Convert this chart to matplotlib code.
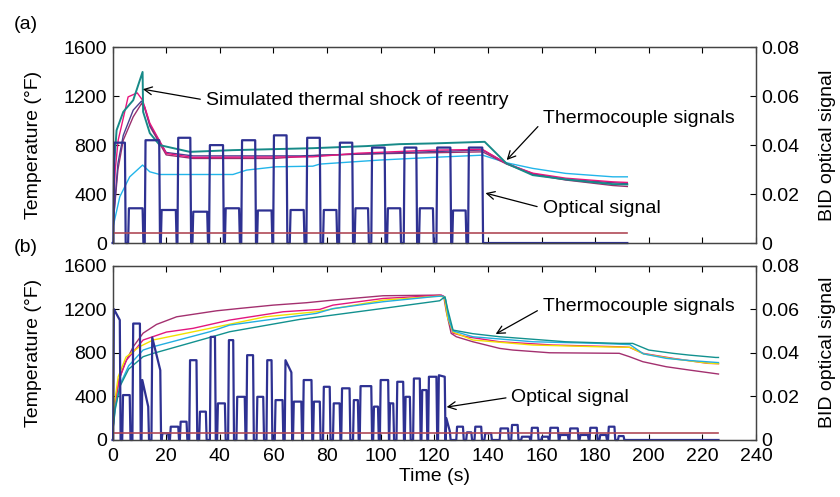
import matplotlib
matplotlib.use('Agg')
import matplotlib.pyplot as plt

plt.rcParams['font.family'] = ['Liberation Sans', 'DejaVu Sans']
plt.rcParams['font.size'] = 14

# ---- panel (a): thermocouples, temperature (F) vs time (s)
teal_a_t = [0, 0.2, 1.5, 4, 7.7, 11.2, 11.4, 13.9, 17.6, 28.8, 44.9, 74.7, 94.7, 107, 119.5, 138.8, 146.9, 156.7, 169, 186.6, 192]
teal_a_T = [100, 514, 922, 1072, 1167, 1398, 1072, 898, 800, 745, 759, 775, 792, 808, 814, 827, 651, 555, 520, 481, 479]
pink_a_t = [0, 1, 2.1, 3.4, 5.8, 9.2, 11.2, 13.9, 20.1, 30, 74.7, 91.5, 119.5, 138, 146.9, 156.7, 169, 186.6, 192]
pink_a_T = [100, 600, 841, 963, 1194, 1227, 1167, 980, 732, 700, 704, 734, 759, 765, 650, 571, 530, 500, 495]
purple_a_t = [0, 2, 4, 7.7, 10.8, 12, 14, 20, 30, 60, 78, 100, 138, 147, 157, 169, 186.6, 192]
purple_a_T = [100, 600, 841, 1031, 1140, 1100, 950, 720, 691, 691, 718, 730, 745, 645, 560, 515, 470, 462]
navy_a_t = [0, 2, 4, 7.7, 10.8, 12, 14, 20, 30, 70, 138, 147, 157, 169, 192]
navy_a_T = [100, 650, 880, 1086, 1160, 1110, 960, 740, 712, 712, 760, 650, 565, 520, 485]
blue_a_t = [0, 0.2, 2.7, 6.4, 11.2, 13.9, 17.6, 44.9, 50, 61, 74.7, 77.3, 99.6, 119.5, 138, 146.9, 156.7, 169, 186.6, 192]
blue_a_T = [0, 133, 378, 541, 637, 582, 560, 560, 596, 623, 628, 645, 678, 700, 718, 656, 610, 569, 541, 541]

# optical signal (a): (on, off, level) plateaus, zero in between
opt_a_blocks = [
    (0.3, 4.6, 0.041), (5.8, 11.2, 0.0142), (12.0, 17.4, 0.042), (18.0, 23.6, 0.0135),
    (24.2, 29.0, 0.043), (29.8, 35.3, 0.0128), (36.0, 41.2, 0.040), (41.9, 47.2, 0.0142),
    (48.0, 53.2, 0.042), (53.9, 59.3, 0.0133), (59.9, 64.9, 0.044), (66.1, 71.3, 0.0135),
    (72.3, 77.3, 0.043), (78.5, 83.5, 0.0135), (84.5, 89.4, 0.041), (90.3, 95.3, 0.0142),
    (96.5, 101.5, 0.039), (102.4, 107.3, 0.0142), (108.6, 113.3, 0.039), (114.3, 119.5, 0.0142),
    (120.8, 126.0, 0.039), (126.7, 131.7, 0.0133), (132.6, 137.9, 0.039),
]
opt_a_end = 192
ref_a = 0.0041

# ---- panel (b)
maroon_b_t = [0, 1, 2.5, 4.6, 7.7, 11.4, 16.4, 23.9, 38.8, 47.5, 59.9, 72.3, 82.2, 100.9, 122, 123.5, 124.5, 126.3, 128.2, 134.4, 144.4, 149.3, 163, 189, 192.8, 197.8, 206.5, 215, 226]
maroon_b_T = [60, 350, 560, 703, 855, 980, 1060, 1130, 1185, 1207, 1237, 1259, 1283, 1323, 1329, 1320, 1176, 978, 947, 901, 840, 825, 800, 795, 764, 718, 672, 642, 605]
magenta_b_t = [0, 1, 2.5, 5.2, 11.4, 20.1, 30, 43.7, 63.6, 77.3, 82.2, 100.9, 119.5, 122.7, 124, 125.5, 127, 132, 144.4, 164.2, 189, 192.8, 197.8, 209, 222, 226]
magenta_b_T = [60, 330, 560, 733, 917, 990, 1024, 1100, 1176, 1198, 1237, 1298, 1323, 1329, 1300, 1100, 980, 947, 901, 871, 855, 850, 795, 749, 703, 700]
yellow_b_t = [0, 0.5, 2.1, 5, 10, 15.1, 36.3, 57, 76, 101, 122, 123.8, 125, 127, 134.4, 156.8, 181.6, 193, 198, 209, 222, 226]
yellow_b_T = [60, 300, 580, 760, 855, 917, 1024, 1130, 1176, 1283, 1320, 1310, 1120, 990, 917, 871, 855, 850, 790, 745, 705, 700]
cyan_b_t = [0, 1, 3, 6, 11.4, 15.1, 36.3, 43.7, 57.4, 76, 82.2, 100.9, 119.5, 123, 124.2, 125.5, 127, 134.4, 156.8, 181.6, 193, 198, 206.5, 213, 226]
cyan_b_T = [60, 300, 520, 680, 825, 855, 993, 1054, 1100, 1161, 1205, 1268, 1314, 1320, 1290, 1100, 1000, 947, 901, 886, 875, 790, 749, 733, 710]
teal_b_t = [0, 1, 2.7, 6, 11.4, 15.1, 36.3, 43.7, 69.8, 82.2, 100.9, 122, 124, 125, 127, 134.4, 144.4, 169, 189, 194, 200, 209, 215, 225, 226]
teal_b_T = [60, 280, 489, 650, 764, 794, 941, 993, 1106, 1146, 1207, 1277, 1314, 1200, 1008, 975, 947, 901, 886, 886, 825, 795, 779, 757, 757]

# optical signal (b): (on, off, level at on, level at off)
opt_b_blocks = [
    (0.2, 2.7, 0.060, 0.055), (3.6, 6.4, 0.0206, 0.0206), (7.4, 10.2, 0.0534, 0.0534),
    (10.8, 13.3, 0.0275, 0.0153), (14.5, 17.8, 0.047, 0.032), (18.3, 20.7, 0.0031, 0.0031),
    (21.4, 24.5, 0.0061, 0.0061), (25.1, 27.6, 0.0084, 0.0084), (28.6, 31.3, 0.0366, 0.0366),
    (32.3, 34.8, 0.013, 0.013), (36.3, 38.2, 0.0473, 0.0473), (39.0, 41.9, 0.0168, 0.0168),
    (43.1, 45.0, 0.0458, 0.0458), (46.2, 49.3, 0.0198, 0.0198), (49.9, 52.4, 0.0389, 0.0389),
    (53.7, 56.2, 0.0198, 0.0198), (57.4, 59.3, 0.0366, 0.0366), (60.5, 63.4, 0.0183, 0.0183),
    (64.2, 66.7, 0.0366, 0.031), (67.3, 70.4, 0.0176, 0.0176), (71.0, 74.2, 0.0275, 0.0275),
    (74.8, 77.3, 0.0176, 0.0176), (78.5, 81.0, 0.0244, 0.0244), (82.2, 84.7, 0.0168, 0.0168),
    (85.3, 88.4, 0.0237, 0.0237), (89.7, 91.5, 0.0183, 0.0183), (92.2, 96.5, 0.0247, 0.0247),
    (97.2, 99.0, 0.0153, 0.0153), (99.7, 102.8, 0.0275, 0.0275), (103.2, 104.7, 0.0168, 0.0168),
    (105.9, 108.4, 0.0267, 0.0267), (109.0, 110.9, 0.0198, 0.0198), (112.1, 114.6, 0.0282, 0.0282),
    (115.2, 117.1, 0.0229, 0.0229), (117.7, 120.8, 0.029, 0.029), (121.4, 123.9, 0.0297, 0.029),
    (124.2, 125.8, 0.010, 0.004), (128.2, 130.7, 0.0061, 0.0061), (131.9, 133.8, 0.0035, 0.0035),
    (135.0, 137.5, 0.0061, 0.0061), (138.7, 141.2, 0.0031, 0.0031), (144.4, 147.5, 0.0053, 0.0053),
    (148.7, 151.1, 0.0069, 0.0069), (152.4, 155.5, 0.0015, 0.0015), (156.1, 158.6, 0.0056, 0.0056),
    (159.9, 162.4, 0.0015, 0.0015), (163.0, 166.1, 0.0056, 0.0056), (166.7, 169.8, 0.0023, 0.0023),
    (170.4, 173.5, 0.0053, 0.0053), (174.2, 177.3, 0.0023, 0.0023), (177.9, 180.6, 0.0056, 0.0056),
    (181.6, 184.1, 0.0023, 0.0023), (184.8, 187.2, 0.0061, 0.0061), (188.5, 190.6, 0.0018, 0.0018),
]
opt_b_end = 226
ref_b = 0.0033

c_opt = '#2e3192'
c_ref = '#b04a58'


def square_wave(blocks, t_end, ramp=0.3):
    t, v = [0.0], [0.0]
    for b in blocks:
        on, off, v1 = b[0], b[1], b[2]
        v2 = b[3] if len(b) > 3 else v1
        t += [on, on + ramp, off, off + ramp]
        v += [0.0, v1, v2, 0.0]
    t.append(t_end)
    v.append(0.0)
    return t, v


fig = plt.figure(figsize=(8.4, 4.97), dpi=100)
ax_a = fig.add_axes([0.134, 0.511, 0.766, 0.394])
ax_b = fig.add_axes([0.134, 0.1147, 0.766, 0.351])

ax_a.plot(blue_a_t, blue_a_T, color='#22b5ea', lw=1.0)
ax_a.plot(purple_a_t, purple_a_T, color='#9b2f6e', lw=1.0)
ax_a.plot(navy_a_t, navy_a_T, color='#4b3f8f', lw=1.0)
ax_a.plot(pink_a_t, pink_a_T, color='#e8157d', lw=1.0)
ax_a.plot(teal_a_t, teal_a_T, color='#178a88', lw=1.4)

ax_b.plot(maroon_b_t, maroon_b_T, color='#a3306f', lw=1.0)
ax_b.plot(magenta_b_t, magenta_b_T, color='#e2177e', lw=1.0)
ax_b.plot(yellow_b_t, yellow_b_T, color='#f2e000', lw=1.0)
ax_b.plot(cyan_b_t, cyan_b_T, color='#22aee0', lw=1.0)
ax_b.plot(teal_b_t, teal_b_T, color='#12918f', lw=1.0)

panels = [(ax_a, opt_a_blocks, opt_a_end, ref_a), (ax_b, opt_b_blocks, opt_b_end, ref_b)]
for ax, blocks, t_end, ref in panels:
    ax2 = ax.twinx()
    ot, ov = square_wave(blocks, t_end)
    ax2.plot(ot, ov, color=c_opt, lw=1.6, clip_on=False)
    ax2.plot([0, t_end], [ref, ref], color=c_ref, lw=1.2)
    ax.set_xlim(0, 240)
    ax.set_ylim(0, 1600)
    ax2.set_ylim(0, 0.08)
    ax.set_xticks(range(0, 241, 20))
    ax.set_yticks([0, 400, 800, 1200, 1600])
    ax2.set_yticks([0, 0.02, 0.04, 0.06, 0.08])
    ax2.set_yticklabels(['0', '0.02', '0.04', '0.06', '0.08'])
    ax.tick_params(direction='in', length=4, top=True, right=False, pad=4, labelsize=14)
    ax.tick_params(axis='x', pad=6)
    ax2.tick_params(direction='in', length=4, pad=4, labelsize=14)
    ax.set_ylabel('Temperature (\u00b0F)', fontsize=14)
    ax.yaxis.set_label_coords(-0.11, 0.5)
    ax2.set_ylabel('BID optical signal', fontsize=14)
    ax2.yaxis.set_label_coords(1.098, 0.5)
    for a in (ax, ax2):
        for s in a.spines.values():
            s.set_color('#444444')
            s.set_linewidth(0.9)

ax_a.set_xticklabels([])
ax_b.set_xlabel('Time (s)', fontsize=14, labelpad=2)

arrow = dict(arrowstyle='->', color='black', lw=0.9, shrinkA=2, shrinkB=0)
ax_a.annotate('Simulated thermal shock of reentry', xy=(11.3, 1257), xytext=(34.8, 1167),
              ha='left', va='center', arrowprops=dict(arrow, relpos=(0, 0.5)))
ax_a.annotate('Thermocouple signals', xy=(147, 678), xytext=(160.4, 1020),
              ha='left', va='center', arrowprops=dict(arrow, relpos=(0, 0.3)))
ax_a.annotate('Optical signal', xy=(139.1, 408), xytext=(160.4, 286),
              ha='left', va='center', arrowprops=dict(arrow, relpos=(0, 0.5)))
ax_b.annotate('Thermocouple signals', xy=(142.9, 972), xytext=(160.4, 1228),
              ha='left', va='center', arrowprops=dict(arrow, relpos=(0, 0.4)))
ax_b.annotate('Optical signal', xy=(124.6, 302), xytext=(148.8, 394),
              ha='left', va='center', arrowprops=dict(arrow, relpos=(0, 0.5)))

fig.text(0.031, 0.95, '(a)', ha='center', va='center', fontsize=14)
fig.text(0.031, 0.503, '(b)', ha='center', va='center', fontsize=14)

fig.savefig('out.png', dpi=100)
